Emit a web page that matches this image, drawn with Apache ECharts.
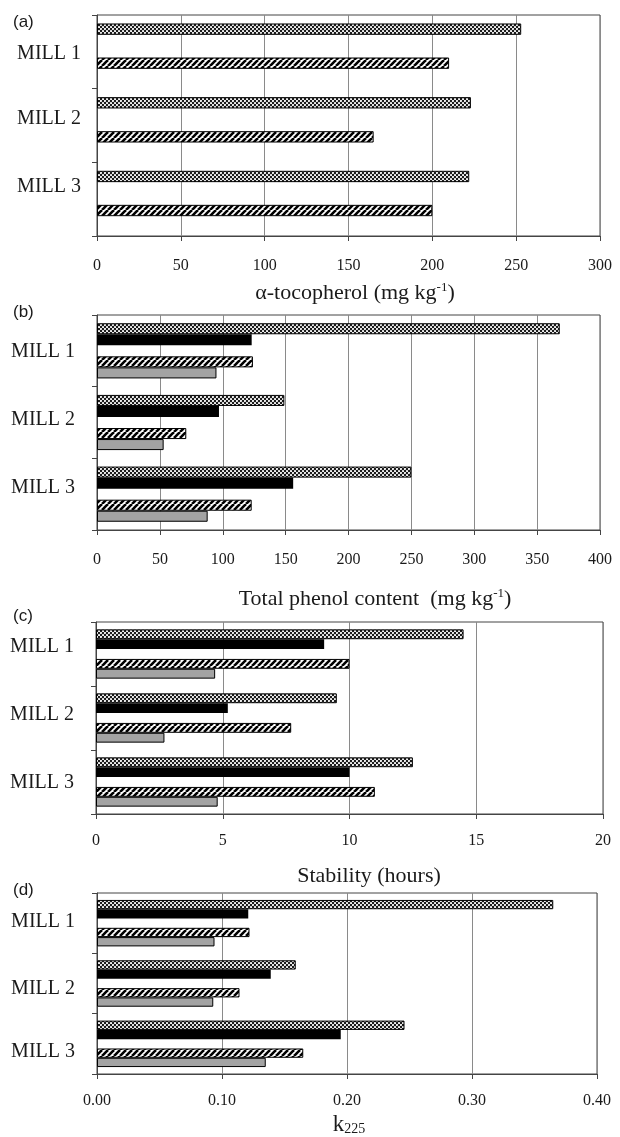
<!DOCTYPE html>
<html>
<head>
<meta charset="utf-8">
<script src="https://cdn.jsdelivr.net/npm/echarts@6/dist/echarts.min.js"></script>
<style>
html,body{margin:0;padding:0;background:#fff;}
#chart{width:620px;height:1137px;}
</style>
</head>
<body>
<div id="chart"></div>
<script>
// ---------------- DATA ----------------
const categories = ['MILL 1', 'MILL 2', 'MILL 3'];
const panelTags = ['(a)', '(b)', '(c)', '(d)'];

// (a) alpha-tocopherol (mg/kg)
const tocoDotted  = [253, 223, 222];
const tocoBlack   = [null, null, null];
const tocoHatched = [210, 165, 200];
const tocoGray    = [null, null, null];
const tocoTicks   = ['0', '50', '100', '150', '200', '250', '300'];

// (b) total phenol content (mg/kg)
const phenolDotted  = [368, 149, 250];
const phenolBlack   = [123, 97, 156];
const phenolHatched = [124, 71, 123];
const phenolGray    = [95, 53, 88];
const phenolTicks   = ['0', '50', '100', '150', '200', '250', '300', '350', '400'];

// (c) stability (hours)
const stabDotted  = [14.5, 9.5, 12.5];
const stabBlack   = [9.0, 5.2, 10.0];
const stabHatched = [10.0, 7.7, 11.0];
const stabGray    = [4.7, 2.7, 4.8];
const stabTicks   = ['0', '5', '10', '15', '20'];

// (d) k225
const kDotted  = [0.365, 0.159, 0.246];
const kBlack   = [0.121, 0.139, 0.195];
const kHatched = [0.122, 0.114, 0.165];
const kGray    = [0.094, 0.093, 0.135];
const kTicks   = ['0.00', '0.10', '0.20', '0.30', '0.40'];

const spacer = [null, null, null];

// ---------------- STYLE ----------------
const SERIF = 'Liberation Serif';
const TXT = '#1a1a1a';

function dotPattern() {
  const c = document.createElement('canvas');
  c.width = 4; c.height = 4;
  const g = c.getContext('2d');
  g.fillStyle = '#1a1a1a'; g.fillRect(0, 0, 4, 4);
  g.fillStyle = '#fff';
  for (const a of [-1, 0, 1]) for (const b of [-1, 0, 1]) for (const p of [[1, 1], [3, 3]]) {
    g.beginPath(); g.arc(p[0] + 4 * a, p[1] + 4 * b, 1.05, 0, Math.PI * 2); g.fill();
  }
  return c;
}
function hatchPattern() {
  const c = document.createElement('canvas');
  c.width = 6; c.height = 6;
  const g = c.getContext('2d');
  g.fillStyle = '#fff'; g.fillRect(0, 0, 6, 6);
  g.strokeStyle = '#000'; g.lineWidth = 2.6;
  for (const x of [-6, 0, 6]) { g.beginPath(); g.moveTo(x, 6); g.lineTo(x + 6, 0); g.stroke(); }
  return c;
}
const DOT = { image: dotPattern(), repeat: 'repeat' };
const HATCH = { image: hatchPattern(), repeat: 'repeat' };
const GRAY = '#a3a3a3';

const grids = [
  { left: 97, top: 15,  width: 503, height: 221 },
  { left: 97, top: 315, width: 503, height: 215 },
  { left: 96, top: 622, width: 507, height: 192 },
  { left: 97, top: 893, width: 500, height: 184 }
];
const tickSets = [tocoTicks, phenolTicks, stabTicks, kTicks];
const labelMargins = [22, 22, 19, 19];
const nameGaps = [45, 57, 51, 39];
const nameShift = [13, 53, 39, 4];
const millLabelMargin = [16, 22, 22, 22];
const millOffsets = [[2, -7, -12], [1, -2.5, -6], [-7, -3, 1], [-1.5, 5.6, 8]];
const tagTops = [14, 304, 608, 882];

const supRich = {
  m: { fontFamily: SERIF, fontSize: 22, color: TXT },
  sup: { fontFamily: SERIF, fontSize: 13, color: TXT, padding: [0, 0, 12, 0] },
  k: { fontFamily: SERIF, fontSize: 23, color: TXT },
  sub: { fontFamily: SERIF, fontSize: 14, color: TXT, padding: [9, 0, 0, 0] }
};
const axisNames = [
  '{m|α-tocopherol (mg kg}{sup|-1}{m|)}',
  '{m|Total phenol content  (mg kg}{sup|-1}{m|)}',
  '{m|Stability (hours)}',
  '{k|k}{sub|225}'
];

const xAxes = grids.map((g, i) => {
  const ticks = tickSets[i].map(Number);
  return {
    gridIndex: i, type: 'value', min: ticks[0], max: ticks[ticks.length - 1],
    interval: ticks[1] - ticks[0],
    axisLine: { show: true, lineStyle: { color: '#444', width: 1 } },
    axisTick: { show: true, length: 5, lineStyle: { color: '#444' } },
    splitLine: { show: true, lineStyle: { color: '#8a8a8a', width: 1 } },
    axisLabel: {
      fontFamily: SERIF, fontSize: 16, color: TXT, margin: labelMargins[i],
      formatter: (v) => tickSets[i][Math.round((v - ticks[0]) / (ticks[1] - ticks[0]))]
    },
    name: axisNames[i], nameLocation: 'middle', nameGap: nameGaps[i],
    nameTextStyle: { rich: supRich, padding: [0, 0, 0, nameShift[i]] }
  };
});

const yAxes = grids.map((g, i) => {
  const rich = {};
  millOffsets[i].forEach((d, j) => {
    rich['l' + j] = {
      fontFamily: SERIF, fontSize: 20, color: TXT,
      padding: d >= 0 ? [2 * d, 0, 0, 0] : [0, 0, -2 * d, 0]
    };
  });
  return {
    gridIndex: i, type: 'category', data: categories, inverse: true,
    axisLine: { show: true, lineStyle: { color: '#444' } },
    axisTick: { show: true, length: 5, lineStyle: { color: '#444' } },
    splitLine: { show: false },
    axisLabel: {
      margin: millLabelMargin[i], fontFamily: SERIF, fontSize: 20, color: TXT,
      formatter: (v, j) => '{l' + j + '|' + v + '}', rich: rich
    }
  };
});

const panelData = [
  [tocoDotted, tocoBlack, tocoHatched, tocoGray],
  [phenolDotted, phenolBlack, phenolHatched, phenolGray],
  [stabDotted, stabBlack, stabHatched, stabGray],
  [kDotted, kBlack, kHatched, kGray]
];

const series = [];
panelData.forEach((d, i) => {
  const mk = (data, color, bw) => ({
    type: 'bar', xAxisIndex: i, yAxisIndex: i, data: data,
    barGap: '0%', barCategoryGap: '23%', silent: true,
    itemStyle: { color: color, borderColor: '#000', borderWidth: bw }
  });
  series.push(mk(d[0], DOT, 1));
  series.push(mk(d[1], '#000', 0));
  series.push(mk(spacer, 'rgba(0,0,0,0)', 0));
  series.push(mk(d[2], HATCH, 1));
  series.push(mk(d[3], GRAY, 1));
});

const chart = echarts.init(document.getElementById('chart'), null, { renderer: 'canvas' });
chart.setOption({
  animation: false,
  backgroundColor: '#fff',
  grid: grids.map(g => Object.assign({ show: true, borderColor: '#444', borderWidth: 1, backgroundColor: 'rgba(0,0,0,0)' }, g)),
  xAxis: xAxes,
  yAxis: yAxes,
  series: series,
  graphic: panelTags.map((t, i) => ({
    type: 'text', left: 13, top: tagTops[i],
    style: { text: t, font: '17px "Liberation Sans"', fill: TXT }
  }))
});
</script>
</body>
</html>
